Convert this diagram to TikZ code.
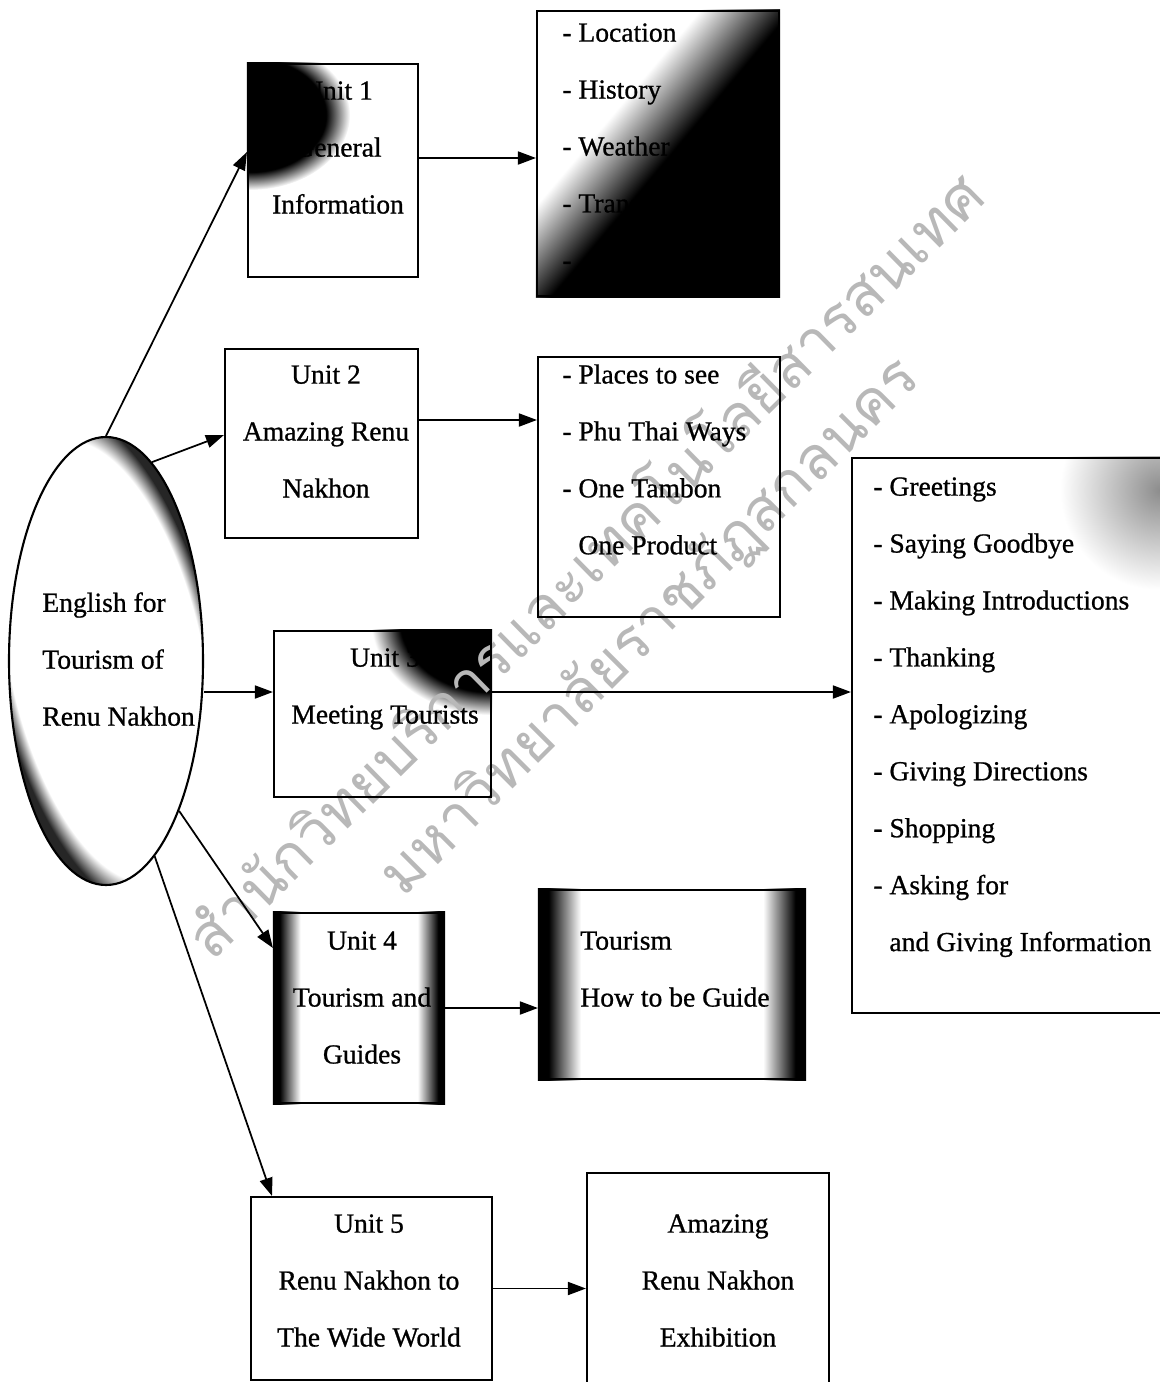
\documentclass[tikz,border=0pt]{standalone}
\usepackage{fontspec}
\setmainfont{Liberation Serif}
\newfontfamily\scanfont{Liberation Serif}[FakeBold=0.8]
\newfontfamily\thaifont[Script=Thai]{Loma}
\usetikzlibrary{shapes.geometric,arrows.meta,backgrounds}
\pgfdeclareradialshading{darkcorner}{\pgfpointorigin}{color(0bp)=(black); color(19bp)=(black); color(25bp)=(white); color(50bp)=(white)}
\pgfdeclareradialshading{darkrim}{\pgfpointorigin}{color(0bp)=(white); color(22bp)=(white); color(25bp)=(black!85); color(50bp)=(black!85)}
\pgfdeclarehorizontalshading{darkdiag}{100bp}{color(0bp)=(white); color(44bp)=(white); color(51bp)=(black); color(100bp)=(black)}
\pgfdeclarehorizontalshading{darksides}{100bp}{color(0bp)=(black); color(27bp)=(black); color(33bp)=(white); color(67bp)=(white); color(73bp)=(black); color(100bp)=(black)}

\begin{document}
\begin{tikzpicture}[
    box/.style={draw, line width=1.2pt, inner sep=0pt},
    txt/.style={inner sep=0pt, font=\scanfont\fontsize{15.7}{32.4}\selectfont},
    arr/.style={line width=1pt, -{Triangle[length=3.6mm, width=2.6mm]}},
    wmark/.style={inner sep=0pt, text=black!28, font=\thaifont\fontsize{34}{34}\selectfont}
]
\useasboundingbox (0,0) rectangle (23.2,-27.64);

\node (wm1) at (11.64,-11.24) [wmark, rotate=44.5] {สำนักวิทยบริการและเทคโนโลยีสารสนเทศ};
\node (wm2) at (13.0,-12.54) [wmark, rotate=45] {มหาวิทยาลัยราชภัฏสกลนคร};

\node (e) at (2.12,-13.22) [box, ellipse, minimum width=3.88cm, minimum height=8.96cm] {};
\node (u1) at (6.66,-3.41) [box, minimum width=3.4cm, minimum height=4.26cm] {};
\node (l1) at (13.16,-3.07) [box, minimum width=4.84cm, minimum height=5.7cm] {};
\node (u2) at (6.43,-8.87) [box, minimum width=3.86cm, minimum height=3.78cm] {};
\node (l2) at (13.18,-9.74) [box, minimum width=4.84cm, minimum height=5.2cm] {};
\node (u3) at (7.65,-14.28) [box, minimum width=4.34cm, minimum height=3.32cm] {};
\node (big) at (20.2,-14.71) [box, minimum width=6.32cm, minimum height=11.1cm] {};
\node (u4) at (7.18,-20.16) [box, minimum width=3.4cm, minimum height=3.8cm] {};
\node (l4) at (13.44,-19.69) [box, minimum width=5.32cm, minimum height=3.78cm] {};
\node (u5) at (7.43,-25.77) [box, minimum width=4.82cm, minimum height=3.66cm] {};
\node (b5) at (14.16,-25.61) [box, minimum width=4.84cm, minimum height=4.3cm] {};

\node (et) at (0.84,-11.84) [txt, anchor=north west, align=left] {English for\\Tourism of\\Renu Nakhon};
\node (u1t) at (6.76,-1.62) [txt, anchor=north, align=center] {Unit 1\\General\\Information};
\node (l1t) at (11.24,-0.46) [txt, anchor=north west, align=left] {- Location\\- History\\- Weather\\- Transportation\\-};
\node (u2t) at (6.52,-7.3) [txt, anchor=north, align=center] {Unit 2\\Amazing Renu\\Nakhon};
\node (l2t) at (11.24,-7.28) [txt, anchor=north west, align=left] {- Places to see\\- Phu Thai Ways\\- One Tambon\\\phantom{- }One Product};
\node (u3t) at (7.7,-12.96) [txt, anchor=north, align=center] {Unit 3\\Meeting Tourists};
\node (bigt) at (17.46,-9.54) [txt, anchor=north west, align=left] {- Greetings\\- Saying Goodbye\\- Making Introductions\\- Thanking\\- Apologizing\\- Giving Directions\\- Shopping\\- Asking for\\\phantom{- }and Giving Information};
\node (u4t) at (7.24,-18.62) [txt, anchor=north, align=center] {Unit 4\\Tourism and\\Guides};
\node (l4t) at (11.6,-18.62) [txt, anchor=north west, align=left] {Tourism\\How to be Guide};
\node (u5t) at (7.38,-24.28) [txt, anchor=north, align=center] {Unit 5\\Renu Nakhon to\\The Wide World};
\node (b5t) at (14.36,-24.28) [txt, anchor=north, align=center] {Amazing\\Renu Nakhon\\Exhibition};

\coordinate (u3in) at ([yshift=0.44cm]u3.west);
\coordinate (u1out) at ([yshift=0.25cm]u1.east);
\coordinate (u2out) at ([yshift=0.47cm]u2.east);
\coordinate (u3out) at ([yshift=0.44cm]u3.east);

\draw[arr] (e.north) -- ([yshift=0.37cm]u1.west);
\draw[arr] (e.77) -- ([yshift=0.17cm]u2.west);
\draw[arr] (u3in -| e.east) -- (u3in);
\draw[arr] (e.-64) -- ([yshift=1.2cm]u4.west);
\draw[arr] (e.-76) -- ([xshift=-1.99cm]u5.north);

\draw[arr] (u1out) -- (u1out -| l1.west);
\draw[arr] (u2out) -- (u2out -| l2.west);
\draw[arr] (u3out) -- (u3out -| big.west);
\draw[arr] (u4.east) -- (u4.east -| l4.west);
\draw[arr] (u5.east) -- (u5.east -| b5.west);

\begin{scope}[on background layer]
    \begin{scope}
        \clip (e.center) ellipse (1.94cm and 4.48cm);
        \fill[black!85] (e.center) ellipse (1.94cm and 4.48cm);
        \begin{scope}[transform canvas={rotate around={12:(e.center)}}]
            \shade[shading=darkrim] (e.center) ellipse (2.2cm and 5.1cm);
        \end{scope}
    \end{scope}
    \begin{scope}
        \clip (u1.south west) rectangle (u1.north east);
        \shade[shading=darkcorner] (5.0,-2.3) ellipse (2cm and 1.5cm);
    \end{scope}
    \begin{scope}
        \clip (l1.south west) rectangle (l1.north east);
        \begin{scope}[transform canvas={rotate around={-40:(l1.center)}}]
            \shade[shading=darkdiag] ([shift={(-5,-5)}]l1.center) rectangle ([shift={(5,5)}]l1.center);
        \end{scope}
    \end{scope}
    \begin{scope}
        \clip (u3.south west) rectangle (u3.north east);
        \shade[shading=darkcorner] (9.82,-12.4) ellipse (2.4cm and 1.9cm);
    \end{scope}
    \begin{scope}
        \clip (big.south west) rectangle (big.north east);
        \shade[inner color=black!45, outer color=white] (23.2,-9.8) circle (2cm);
    \end{scope}
    \shade[shading=darksides] (u4.south west) rectangle (u4.north east);
    \shade[shading=darksides] (l4.south west) rectangle (l4.north east);
\end{scope}
\end{tikzpicture}
\end{document}
